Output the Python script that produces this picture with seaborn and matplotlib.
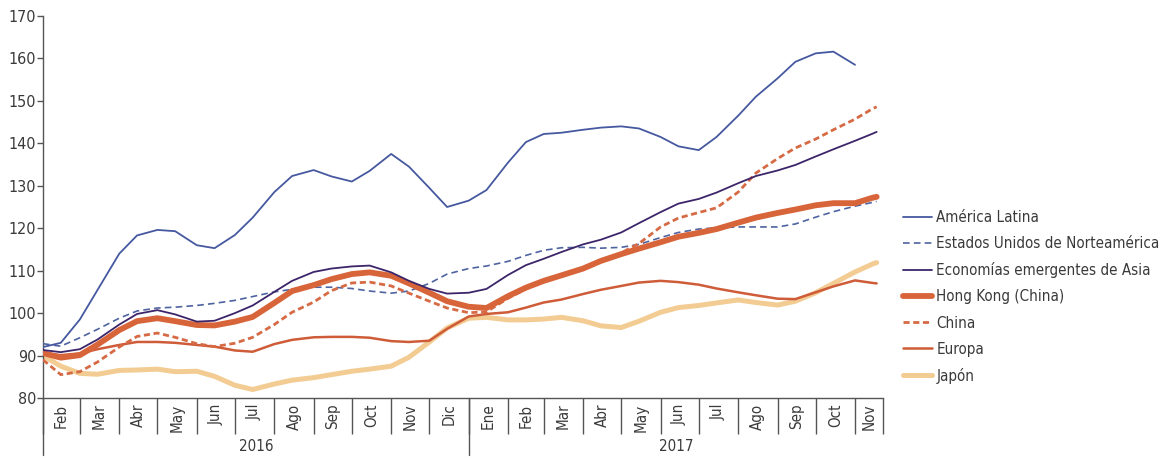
import matplotlib
matplotlib.use("Agg")
import matplotlib.pyplot as plt
from matplotlib import font_manager
import seaborn as sns
import numpy as np
import pandas as pd

# Semi-monthly observation dates (1st and 15th) plus the last observation
dates = list(pd.date_range("2016-02-01", "2017-11-15", freq="SMS")) + [pd.Timestamp("2017-11-18")]

america_latina = [92, 93, 98.5, 105.5, 114, 118.3, 119.6, 119.3, 116, 115.3,
                  118.4, 122.5, 128.5, 132.3, 133.7, 132.2, 131, 133.5, 137.5, 134.5,
                  129.5, 125, 126.5, 129, 135.5, 140.3, 142.2, 142.5, 143.2, 143.7,
                  144, 143.5, 141.5, 139.3, 138.4, 141.5, 146.5, 151, 155.3, 159.2,
                  161.2, 161.6, 158.5, np.nan, np.nan]
estados_unidos = [92.8, 92.2, 94.2, 96.2, 98.8, 100.5, 101.2, 101.4, 101.8, 102.3,
                  103, 103.9, 105, 105.6, 106.1, 106.1, 105.8, 105.2, 104.7, 105.2,
                  107, 109.2, 110.5, 111.1, 112.2, 113.6, 114.8, 115.4, 115.5, 115.3,
                  115.5, 116.2, 117.8, 119, 119.8, 120.1, 120.3, 120.3, 120.3, 121,
                  122.6, 123.9, 125.2, 126.1, 126.3]
asia_emergente = [91.3, 90.8, 91.5, 93.8, 97.3, 99.8, 100.7, 99.7, 98, 98.2,
                  100, 101.8, 105, 107.6, 109.7, 110.5, 111, 111.2, 109.6, 107.6,
                  105.7, 104.6, 104.8, 105.7, 109, 111.3, 112.8, 114.4, 116.2, 117.3,
                  119, 121.2, 123.8, 125.8, 126.9, 128.4, 130.6, 132.3, 133.6, 134.9,
                  136.9, 138.6, 140.6, 142.3, 142.7]
hong_kong = [90.6, 89.5, 90.1, 92.6, 96, 98.1, 98.8, 98.1, 97.2, 97.1,
             98, 99.1, 102.4, 105.2, 106.6, 108, 109.2, 109.6, 108.8, 107,
             104.8, 102.8, 101.5, 101.2, 104, 106, 107.6, 108.9, 110.5, 112.3,
             113.9, 115.2, 116.7, 118, 118.9, 119.8, 121.3, 122.5, 123.6, 124.4,
             125.4, 125.9, 125.9, 127.2, 127.4]
china = [89, 85.5, 86.2, 88.5, 92, 94.5, 95.3, 94.3, 92.8, 92.1,
         92.9, 94.3, 97.3, 100.2, 102.6, 105.3, 107.1, 107.3, 106.4, 104.7,
         102.8, 101.2, 100.1, 100.3, 103.5, 105.7, 107.4, 108.8, 110.5, 112.2,
         114.2, 116.4, 120.3, 122.4, 123.7, 124.8, 128.5, 133, 136.4, 138.9,
         141, 143.2, 145.7, 148.2, 148.6]
europa = [90.6, 90.1, 90.5, 91.5, 92.5, 93.2, 93.2, 93, 92.5, 92.1,
          91.2, 90.9, 92.7, 93.7, 94.3, 94.4, 94.4, 94.2, 93.4, 93.2,
          93.5, 96.3, 99.2, 99.8, 100.2, 101.3, 102.5, 103.2, 104.5, 105.5,
          106.4, 107.2, 107.6, 107.3, 106.7, 105.8, 104.9, 104.2, 103.4, 103.3,
          104.9, 106.3, 107.7, 107.1, 107.0]
japon = [90, 87.5, 85.8, 85.6, 86.5, 86.6, 86.8, 86.2, 86.3, 85.1,
         83, 82, 83.3, 84.2, 84.8, 85.5, 86.3, 86.8, 87.5, 89.6,
         93.2, 96.5, 98.8, 99, 98.4, 98.4, 98.6, 99, 98.2, 97.0,
         96.6, 98.1, 100.2, 101.3, 101.8, 102.4, 103.1, 102.5, 101.9, 102.8,
         104.8, 107, 109.7, 111.6, 111.9]

series_names = ["América Latina", "Estados Unidos de Norteamérica",
                "Economías emergentes de Asia", "Hong Kong (China)",
                "China", "Europa", "Japón"]
series_values = [america_latina, estados_unidos, asia_emergente, hong_kong,
                 china, europa, japon]

month_labels = ["Ene", "Feb", "Mar", "Abr", "May", "Jun",
                "Jul", "Ago", "Sep", "Oct", "Nov", "Dic"]
year_labels = ["2016", "2017"]
y_ticks = list(range(80, 171, 10))

x_start = pd.Timestamp("2016-02-01")
x_end = pd.Timestamp("2017-11-23")

styles = {
    "América Latina": dict(color="#46589f", lw=1.3, ls="-", z=6),
    "Estados Unidos de Norteamérica": dict(color="#4e63a0", lw=1.2, ls=(0, (4, 2.5)), z=3),
    "Economías emergentes de Asia": dict(color="#3c2569", lw=1.3, ls="-", z=6),
    "Hong Kong (China)": dict(color="#d8643a", lw=4.2, ls="-", z=4),
    "China": dict(color="#d66a45", lw=2.0, ls=(0, (2.2, 1.3)), z=3.5),
    "Europa": dict(color="#cf5c38", lw=1.8, ls="-", z=3),
    "Japón": dict(color="#f3cc93", lw=3.6, ls="-", z=2),
}

sns.set_style("ticks")

# Narrow sans-serif for all text, with fallbacks
installed = {f.name: f for f in font_manager.fontManager.ttflist}
has_dejavu_cond = any(f.name == "DejaVu Sans" and f.stretch in ("condensed", 300)
                      for f in font_manager.fontManager.ttflist)
if "Liberation Sans Narrow" in installed:
    plt.rcParams["font.family"] = ["Liberation Sans Narrow", "DejaVu Sans"]
    fs = 12.0
elif has_dejavu_cond:
    plt.rcParams["font.family"] = ["DejaVu Sans"]
    plt.rcParams["font.stretch"] = "condensed"
    fs = 10.9
else:
    plt.rcParams["font.family"] = ["Roboto", "DejaVu Sans"]
    fs = 10.6

fig = plt.figure(figsize=(11.65, 4.58), dpi=100)
ax = fig.add_axes([43 / 1165, 1 - 398 / 458, (883 - 43) / 1165, (398 - 16) / 458])

df = pd.DataFrame({"fecha": dates})
for name, vals in zip(series_names, series_values):
    df[name] = vals

handles = []
for name in series_names:
    st = styles[name]
    sns.lineplot(data=df, x="fecha", y=name, ax=ax, color=st["color"],
                 linewidth=st["lw"], linestyle=st["ls"], zorder=st["z"])
    handles.append(ax.get_lines()[-1])

ax.set_xlim(x_start, x_end)
ax.set_ylim(80, 170)
ax.set_yticks(y_ticks)
ax.set_xlabel("")
ax.set_ylabel("")
sns.despine(ax=ax)

axis_color = "#555555"
text_color = "#3a3a3a"
for side in ("left", "bottom"):
    ax.spines[side].set_color(axis_color)
    ax.spines[side].set_linewidth(1.0)
ax.tick_params(axis="y", length=4, width=1, color=axis_color, labelcolor=text_color,
               labelsize=fs + 0.6, pad=1)

# Month cells below the axis: separators as major ticks, names as minor ticks
month_starts = list(pd.date_range(x_start, x_end, freq="MS"))
bounds = month_starts + [x_end]
centers = [a + (b - a) / 2 for a, b in zip(bounds[:-1], bounds[1:])]
ax.set_xticks(bounds)
ax.set_xticklabels([])
ax.set_xticks(centers, minor=True)
ax.set_xticklabels([month_labels[d.month - 1] for d in month_starts], minor=True,
                   rotation=90)
ax.tick_params(axis="x", which="major", length=26, width=1, color=axis_color)
ax.tick_params(axis="x", which="minor", length=0, pad=4, labelsize=fs,
               labelcolor=text_color)

# Year separators and year names
trans = ax.get_xaxis_transform()
year_bounds = [x_start, pd.Timestamp("2017-01-01"), x_end]
for xb in year_bounds[:2]:
    ax.plot([xb, xb], [0, -0.15], transform=trans, color=axis_color, lw=1,
            clip_on=False)
for lab, a, b in zip(year_labels, year_bounds[:-1], year_bounds[1:]):
    ax.text(a + (b - a) / 2, -0.128, lab, transform=trans, ha="center", va="center",
            fontsize=fs, color=text_color)

leg = fig.legend(handles=handles, labels=series_names, loc="center left",
                 bbox_to_anchor=(903 / 1165, 1 - 297 / 458), frameon=False,
                 fontsize=fs, handlelength=1.9, handletextpad=0.3,
                 labelspacing=0.73, borderaxespad=0, borderpad=0)
for t in leg.get_texts():
    t.set_color(text_color)

fig.savefig("out.png", dpi=100)
